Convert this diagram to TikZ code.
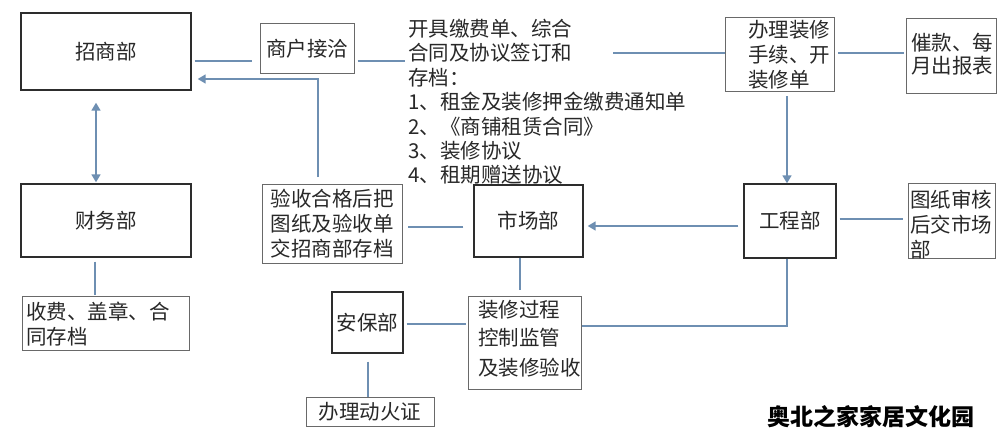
\documentclass[tikz,border=0pt]{standalone}
\usepackage{fontspec}
\setmainfont{Noto Sans CJK SC}
\usetikzlibrary{arrows.meta}
\definecolor{linec}{RGB}{110,143,178}
\definecolor{boxdark}{RGB}{45,45,45}
\definecolor{boxlight}{RGB}{105,105,105}
\definecolor{textc}{RGB}{40,40,40}
\begin{document}
\begin{tikzpicture}[x=1pt,y=-1pt,
  mainbox/.style={draw=boxdark, line width=1.4pt, inner sep=0pt, text=textc, font=\fontsize{20.5}{24.5}\selectfont},
  thinbox/.style={draw=boxlight, line width=1pt, inner sep=0pt, text=textc, font=\fontsize{20.5}{24.5}\selectfont},
  lbl/.style={align=left, inner sep=0pt, text=textc},
  conn/.style={draw=linec, line width=1.6pt},
  arr/.style={conn, -{Triangle[width=9pt,length=8pt]}},
  darr/.style={conn, {Triangle[width=9pt,length=8pt]}-{Triangle[width=9pt,length=8pt]}}]
\useasboundingbox (0,0) rectangle (1000,444);
\fill[white] (0,0) rectangle (1000,444);

% boxes
\node[mainbox, minimum width=170, minimum height=77] (zs) at (106,51.5) {招商部};
\node[thinbox, minimum width=94, minimum height=49] (sh) at (307,48.5) {商户接洽};
\node[thinbox, minimum width=109, minimum height=74, anchor=north west] (bl) at (725,17) {};
\node[lbl, anchor=west, font=\fontsize{20.5}{25}\selectfont] (blT) at (748,55) {办理装修\\手续、开\\装修单};
\node[thinbox, minimum width=90, minimum height=75, anchor=north west] (ck) at (906,18) {};
\node[lbl, anchor=west, font=\fontsize{20.5}{23}\selectfont] (ckT) at (911,54.5) {催款、每\\月出报表};
\node[mainbox, minimum width=92, minimum height=74] (gc) at (790,221) {工程部};
\node[thinbox, minimum width=87, minimum height=75, anchor=north west] (tz) at (908,183) {};
\node[lbl, anchor=west, font=\fontsize{20.5}{25}\selectfont] (tzT) at (910,225) {图纸审核\\后交市场\\部};
\node[mainbox, minimum width=109, minimum height=72] (sc) at (528.5,221) {市场部};
\node[thinbox, minimum width=140, minimum height=79, align=center, font=\fontsize{20.5}{25}\selectfont] (ys) at (332,224) {验收合格后把\\图纸及验收单\\交招商部存档};
\node[mainbox, minimum width=170, minimum height=73] (cw) at (106,220.5) {财务部};
\node[thinbox, minimum width=167, minimum height=54, anchor=north west] (sf) at (22,296) {};
\node[lbl, anchor=west, font=\fontsize{20.5}{25}\selectfont] (sfT) at (26,324.5) {收费、盖章、合\\同存档};
\node[mainbox, minimum width=71, minimum height=61] (ab) at (367.5,322.5) {安保部};
\node[thinbox, minimum width=128, minimum height=29] (dh) at (370,411.5) {办理动火证};
\node[thinbox, minimum width=113, minimum height=93, anchor=north west] (zx) at (468,296) {};
\node[lbl, anchor=west, font=\fontsize{20.5}{28}\selectfont] (zxT) at (478,339) {装修过程\\控制监管\\[2pt]及装修验收};

% text block
\node[lbl, anchor=west, font=\fontsize{20.5}{24.4}\selectfont] (doc) at (408,102) {开具缴费单、综合\\合同及协议签订和\\存档：\\1、租金及装修押金缴费通知单\\2、《商铺租赁合同》\\3、装修协议\\4、租期赠送协议};
\coordinate (t1) at (405,61);
\coordinate (t2) at (613,53);

% watermark
\node[inner sep=0pt, font=\fontsize{23}{25}\selectfont\bfseries, text=black] (wm) at (871,417) {奥北之家家居文化园};

% connectors
\coordinate (yA) at (0,61);
\draw[conn, shorten <=3pt, shorten >=8pt] (zs.east |- yA) -- (sh.west |- yA);
\draw[conn, shorten <=3pt] (sh.east |- yA) -- (t1);
\draw[conn] (t2) -- (bl.west |- t2);
\draw[conn, shorten <=3pt, shorten >=2pt] (bl.east |- t2) -- (ck.west |- t2);
\coordinate (xB) at (787,0);
\draw[arr, shorten <=4pt] (bl.south -| xB) -- (gc.north -| xB);
\coordinate (yC) at (0,219);
\draw[conn, shorten <=3pt, shorten >=5pt] (gc.east |- yC) -- (tz.west |- yC);
\coordinate (yD) at (0,326);
\draw[conn] (gc.south -| xB) -- (xB |- yD) -- (zx.east |- yD);
\coordinate (yE) at (0,226);
\draw[arr, shorten <=5pt, shorten >=4pt] (gc.west |- yE) -- (sc.east |- yE);
\coordinate (yF) at (0,227);
\draw[conn, shorten <=10pt, shorten >=5pt] (sc.west |- yF) -- (ys.east |- yF);
\coordinate (xG) at (318,79);
\draw[arr, shorten <=7pt, shorten >=6pt] (ys.north -| xG) -- (xG) -- (zs.east |- xG);
\coordinate (xH) at (96,0);
\draw[darr, shorten <=12pt, shorten >=1pt] (zs.south -| xH) -- (cw.north -| xH);
\coordinate (xI) at (95,0);
\draw[conn, shorten <=4pt, shorten >=1pt] (cw.south -| xI) -- (sf.north -| xI);
\coordinate (xJ) at (520,0);
\draw[conn, shorten >=6pt] (sc.south -| xJ) -- (zx.north -| xJ);
\coordinate (yK) at (0,324);
\draw[conn, shorten <=3pt, shorten >=2pt] (ab.east |- yK) -- (zx.west |- yK);
\coordinate (xL) at (368,0);
\draw[conn, shorten <=8pt] (ab.south -| xL) -- (dh.north -| xL);
\end{tikzpicture}
\end{document}
